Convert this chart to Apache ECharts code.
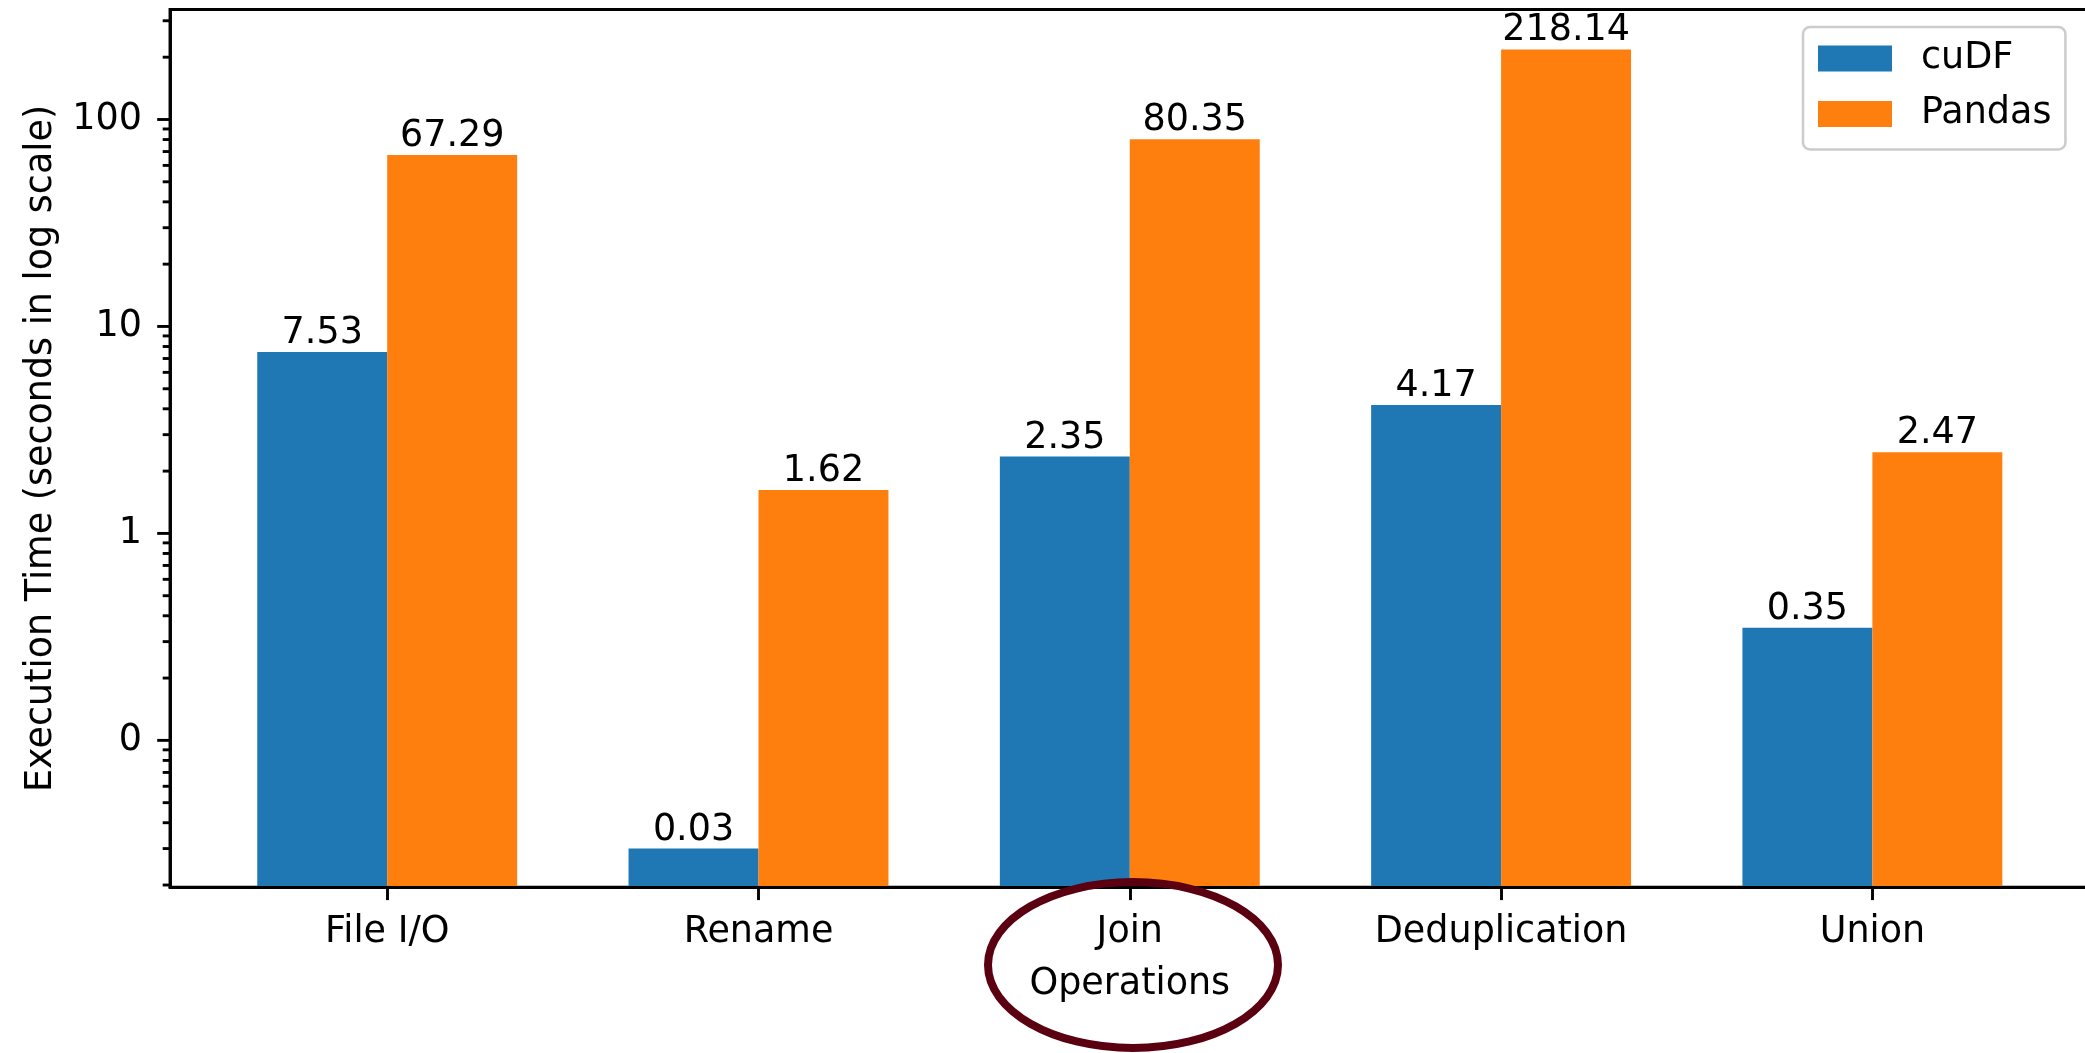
<!DOCTYPE html>
<html><head><meta charset="utf-8">
<script src="https://cdn.jsdelivr.net/npm/echarts@6/dist/echarts.min.js"></script>
<style>html,body{margin:0;padding:0;background:#fff}#c{width:2085px;height:1053px}</style>
</head><body><div id="c"></div>
<script>
// ---- data ----
const categories = ['File I/O', 'Rename', 'Join\nOperations', 'Deduplication', 'Union'];
const seriesNames = ['cuDF', 'Pandas'];
const cudfTimes = [7.53, 0.03, 2.35, 4.17, 0.35];
const pandasTimes = [67.29, 1.62, 80.35, 218.14, 2.47];
const yMajorTicks = [0.1, 1, 10, 100];
const yMinorTicks = [0.02, 0.03, 0.04, 0.05, 0.06, 0.07, 0.08, 0.09,
                     0.2, 0.3, 0.4, 0.5, 0.6, 0.7, 0.8, 0.9,
                     2, 3, 4, 5, 6, 7, 8, 9,
                     20, 30, 40, 50, 60, 70, 80, 90,
                     200, 300];
const xTicks = [0, 1, 2, 3, 4];

// ---- style / layout ----
const Y_MIN = 0.0195, Y_MAX = 340;
const X_MIN = -0.585, X_MAX = 4.585;
const BAR_W = 0.35;
const FONT = 'DejaVu Sans';
const FS = 36.5;
const LW = 2.9;
const COLORS = ['#1f77b4', '#ff7f0e'];
const LABEL_GAP = 0;

function barSeries(name, values, color, side) {
  return {
    type: 'custom', name: name, coordinateSystem: 'cartesian2d',
    itemStyle: { color: color },
    encode: { x: 0, y: 1 },
    data: values.map((v, i) => [i, v]),
    z: 2,
    renderItem: function (params, api) {
      const x = api.value(0), v = api.value(1);
      const x0 = x + side * BAR_W, x1 = x0 + BAR_W;
      const pTop = api.coord([x0, v]);
      const pTop2 = api.coord([x1, v]);
      const pBase = api.coord([x0, Y_MIN]);
      return {
        type: 'group', children: [
          { type: 'rect', shape: { x: pTop[0], y: pTop[1], width: pTop2[0] - pTop[0], height: pBase[1] - pTop[1] },
            style: { fill: color } },
          { type: 'text', x: (pTop[0] + pTop2[0]) / 2, y: pTop[1] - LABEL_GAP,
            style: { text: v.toFixed(2), fontSize: FS, fontFamily: FONT, fill: '#000', align: 'center', verticalAlign: 'bottom' } }
        ]
      };
    }
  };
}

function tickSeries(values, len) {
  return {
    type: 'custom', coordinateSystem: 'cartesian2d', silent: true, z: 10,
    encode: { x: 0, y: 1 },
    data: values.map(v => [X_MIN, v]),
    renderItem: function (params, api) {
      const p = api.coord([X_MIN, api.value(1)]);
      return { type: 'line', shape: { x1: p[0] - len, y1: p[1], x2: p[0], y2: p[1] },
               style: { stroke: '#000', lineWidth: LW } };
    }
  };
}

const chart = echarts.init(document.getElementById('c'), null, { renderer: 'canvas' });
chart.setOption({
  animation: false,
  backgroundColor: '#fff',
  textStyle: { fontFamily: FONT },
  grid: { left: 170, top: 9.5, bottom: 165.7, right: -4.6, show: true, borderColor: '#000', borderWidth: LW,
          backgroundColor: 'transparent', containLabel: false, outerBoundsMode: 'none' },
  legend: {
    data: seriesNames.map(n => ({ name: n, icon: 'rect' })),
    orient: 'vertical', left: 1803, top: 27,
    itemWidth: 74, itemHeight: 26, itemGap: 18.5,
    padding: [13, 14, 17, 15],
    borderColor: '#cccccc', borderWidth: 2.5, borderRadius: 7,
    backgroundColor: 'rgba(255,255,255,0.8)',
    selectedMode: false,
    textStyle: { fontSize: FS, fontFamily: FONT, color: '#000', padding: [0, 0, 0, 24], lineHeight: 36 }
  },
  xAxis: {
    type: 'value', min: X_MIN, max: X_MAX, z: 10,
    splitLine: { show: false },
    axisLine: { show: true, onZero: false, lineStyle: { color: '#000', width: LW } },
    axisTick: { show: true, customValues: xTicks, length: 12.8, lineStyle: { color: '#000', width: LW } },
    axisLabel: { customValues: xTicks, formatter: v => (categories[v] !== undefined ? categories[v] : ''),
                 fontSize: FS, fontFamily: FONT, color: '#000', margin: 19, lineHeight: 52 }
  },
  yAxis: {
    type: 'log', logBase: 10, min: Y_MIN, max: Y_MAX, z: 10,
    name: 'Execution Time (seconds in log scale)', nameLocation: 'middle', nameGap: 110,
    nameTextStyle: { fontSize: FS, fontFamily: FONT, color: '#000' },
    splitLine: { show: false },
    axisLine: { show: true, onZero: false, lineStyle: { color: '#000', width: LW } },
    axisTick: { show: false },
    axisLabel: {
      showMinLabel: false, showMaxLabel: false,
      fontSize: FS, fontFamily: FONT, color: '#000', margin: 28,
      formatter: function (v) {
        const l = Math.log10(v);
        if (Math.abs(l - Math.round(l)) > 1e-6) return '';
        return String(Math.round(v));
      }
    }
  },
  graphic: [{
    type: 'ellipse', z: 100,
    shape: { cx: 1133, cy: 965, rx: 145, ry: 83 },
    style: { fill: 'none', stroke: '#5a0010', lineWidth: 8 }
  }],
  series: [
    barSeries(seriesNames[0], cudfTimes, COLORS[0], -1),
    barSeries(seriesNames[1], pandasTimes, COLORS[1], 0),
    tickSeries(yMajorTicks, 12.8),
    tickSeries(yMinorTicks, 7.3)
  ]
});
</script></body></html>
